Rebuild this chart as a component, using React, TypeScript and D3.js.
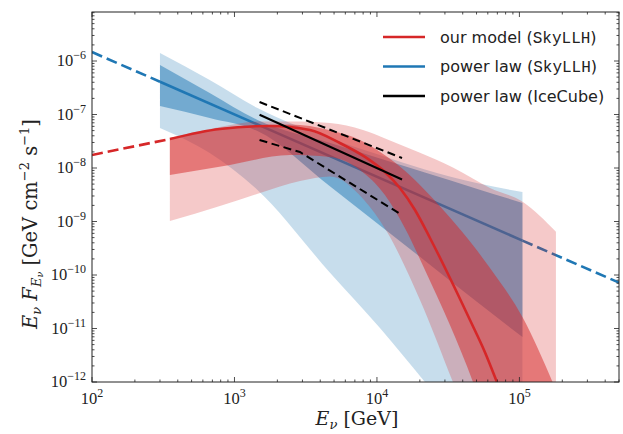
import * as d3 from "d3";

// energies in GeV, fluxes E*F in GeV cm^-2 s^-1

// power law fit (SkyLLH)
const blueLineE = [1e2, 3e2, 1.05e5, 5e5];
const blueLineF = [1.47e-6, 4.1e-7, 4.4e-10, 7.2e-11];

const blueBandE = [300, 670, 1450, 4700, 10500, 21700, 50000, 105000];
const blue2Up = [1.41e-6, 4.4e-7, 1.32e-7, 3.6e-8, 1.75e-8, 9.4e-9, 5.25e-9, 3.55e-9];
const blue2Lo = [5.6e-8, 1.9e-8, 3.9e-9, 1.09e-10, 1.02e-11, 1.0e-12, 6.6e-14, 4.0e-15];
const blue1Up = [8.4e-7, 2.52e-7, 7.9e-8, 2.93e-8, 1.51e-8, 8.2e-9, 4.1e-9, 2.22e-9];
const blue1Lo = [1.44e-7, 8.6e-8, 4.9e-8, 4.5e-9, 8.4e-10, 1.85e-10, 3.2e-11, 6.9e-12];

// our model (SkyLLH)
const modelE = [100, 352, 790, 1774, 3388, 5495, 8240, 11380, 14490, 18490, 23560, 32540, 44980, 57280, 69500, 80400];
const modelF = [1.75e-8, 3.48e-8, 5.36e-8, 6.1e-8, 5.13e-8, 2.93e-8, 1.61e-8, 8.4e-9, 4.23e-9, 1.64e-9, 4.92e-10, 8.8e-11, 1.44e-11, 3.6e-12, 1.0e-12, 3.7e-13];
const modelSolidFrom = 352;

const red2E = [352, 790, 1510, 2884, 4677, 7980, 11750, 20050, 34140, 62120, 105900, 180400];
const red2Up = [3.64e-8, 5.83e-8, 7.43e-8, 7.4e-8, 6.93e-8, 5.13e-8, 3.45e-8, 1.92e-8, 1.02e-8, 4.23e-9, 2.31e-9, 6.4e-10];
const red2Lo = [1.02e-9, 1.95e-9, 3.41e-9, 5.71e-9, 6.93e-9, 2.67e-9, 6.4e-10, 3.41e-11, 1.0e-12, 1.83e-14, 4.5e-16, 1e-17];

const red1E = [352, 929, 2449, 4677, 7603, 11380, 15700, 21730, 32540, 47210, 62120, 105900, 180400];
const red1Up = [3.48e-8, 5.83e-8, 6.47e-8, 5.07e-8, 3.33e-8, 1.73e-8, 8.9e-9, 3.85e-9, 1.19e-9, 3.59e-10, 1.35e-10, 1.57e-11, 7.1e-13];
const red1Lo = [7.4e-9, 1.14e-8, 1.75e-8, 1.61e-8, 9.2e-9, 3.13e-9, 7.6e-10, 1.24e-10, 1.16e-11, 1.0e-12, 1.21e-13, 1.44e-15, 1.5e-17];

// power law (IceCube)
const iceE = [1500, 15000];
const iceF = [9.9e-8, 6.1e-9];
const iceUpE = [1500, 15000];
const iceUpF = [1.71e-7, 1.54e-8];
const iceLoE = [1500, 2880, 15000];
const iceLoF = [3.33e-8, 1.99e-8, 1.32e-9];

const xMajor = [2, 3, 4, 5];
const yMajor = [-12, -11, -10, -9, -8, -7, -6];

const legendItems = [
  { color: "#d62728", label: "our model (", mono: "SkyLLH", end: ")" },
  { color: "#1f77b4", label: "power law (", mono: "SkyLLH", end: ")" },
  { color: "#000000", label: "power law (IceCube)", mono: "", end: "" },
];

const RED = "#d62728";
const BLUE = "#1f77b4";

export default function App() {
  const width = 623;
  const height = 434;
  const L = 92, R = 619, T = 12, B = 382;

  const x = d3.scaleLog().domain([1e2, 5e5]).range([L, R]);
  const y = d3.scaleLog().domain([1e-12, Math.pow(10, -5.084)]).range([B, T]);

  const pts = (E: number[], F: number[]) => E.map((e, i) => [e, F[i]] as [number, number]);

  const line = d3
    .line<[number, number]>()
    .x((d) => x(d[0]))
    .y((d) => y(d[1]));
  const smooth = d3
    .line<[number, number]>()
    .x((d) => x(d[0]))
    .y((d) => y(d[1]))
    .curve(d3.curveMonotoneX);

  const band = (E: number[], up: number[], lo: number[]) =>
    d3
      .area<number>()
      .x((_, i) => x(E[i]))
      .y0((_, i) => y(lo[i]))
      .y1((_, i) => y(up[i]))
      .curve(d3.curveMonotoneX)(E) || "";

  const modelPts = pts(modelE, modelF);
  const modelDash = modelPts.filter((d) => d[0] <= modelSolidFrom);
  const modelSolid = modelPts.filter((d) => d[0] >= modelSolidFrom);
  const bluePts = pts(blueLineE, blueLineF);

  const xTicks = x.ticks();
  const yTicks = y.ticks();
  const isMajor = (v: number) => Math.abs(Math.log10(v) - Math.round(Math.log10(v))) < 1e-6;

  const serif = "'Liberation Serif', 'DejaVu Serif', serif";
  const labelSerif = "'DejaVu Serif', serif";
  const sans = "'DejaVu Sans', sans-serif";
  const mono = "'Liberation Mono', 'DejaVu Sans Mono', monospace";

  return (
    <svg
      width={width}
      height={height}
      style={{ position: "absolute", left: 0, top: 0, background: "#fff" }}
    >
      <defs>
        <clipPath id="plot">
          <rect x={L} y={T} width={R - L} height={B - T} />
        </clipPath>
      </defs>
      <rect x={0} y={0} width={width} height={height} fill="#fff" />

      <g clipPath="url(#plot)">
        <path d={band(blueBandE, blue2Up, blue2Lo)} fill={BLUE} fillOpacity={0.25} />
        <path d={band(blueBandE, blue1Up, blue1Lo)} fill={BLUE} fillOpacity={0.5} />
        <path d={line(bluePts.slice(0, 2)) || ""} stroke={BLUE} strokeWidth={2.6} fill="none" strokeDasharray="11,5" />
        <path d={line(bluePts.slice(1, 3)) || ""} stroke={BLUE} strokeWidth={2.6} fill="none" />
        <path d={line(bluePts.slice(2, 4)) || ""} stroke={BLUE} strokeWidth={2.6} fill="none" strokeDasharray="11,5" />

        <path d={band(red2E, red2Up, red2Lo)} fill={RED} fillOpacity={0.25} />
        <path d={band(red1E, red1Up, red1Lo)} fill={RED} fillOpacity={0.5} />
        <path d={line(modelDash) || ""} stroke={RED} strokeWidth={2.6} fill="none" strokeDasharray="11,5" />
        <path d={smooth(modelSolid) || ""} stroke={RED} strokeWidth={2.6} fill="none" />

        <path d={line(pts(iceE, iceF)) || ""} stroke="#000" strokeWidth={2} fill="none" />
        <path d={line(pts(iceUpE, iceUpF)) || ""} stroke="#000" strokeWidth={2} fill="none" strokeDasharray="8,4.5" />
        <path d={line(pts(iceLoE, iceLoF)) || ""} stroke="#000" strokeWidth={2} fill="none" strokeDasharray="8,4.5" />
      </g>

      {/* frame */}
      <rect x={L} y={T} width={R - L} height={B - T} fill="none" stroke="#222" strokeWidth={1} />

      {/* ticks, all four sides, pointing in */}
      {xTicks.map((t, i) => {
        const len = isMajor(t) ? 5 : 2.5;
        const px = x(t);
        return (
          <g key={"xt" + i} stroke="#222" strokeWidth={0.8}>
            <line x1={px} x2={px} y1={B} y2={B - len} />
            <line x1={px} x2={px} y1={T} y2={T + len} />
          </g>
        );
      })}
      {yTicks.map((t, i) => {
        const len = isMajor(t) ? 5 : 2.5;
        const py = y(t);
        return (
          <g key={"yt" + i} stroke="#222" strokeWidth={0.8}>
            <line x1={L} x2={L + len} y1={py} y2={py} />
            <line x1={R} x2={R - len} y1={py} y2={py} />
          </g>
        );
      })}

      {xMajor.map((k) => (
        <text key={"xl" + k} x={x(Math.pow(10, k))} y={404} textAnchor="middle" fontFamily={serif} fontSize={16.5} fill="#222">
          10<tspan dy={-7} fontSize={12}>{k}</tspan>
        </text>
      ))}
      {yMajor.map((k) => (
        <text key={"yl" + k} x={86} y={y(Math.pow(10, k)) + 5} textAnchor="end" fontFamily={serif} fontSize={16.5} fill="#222">
          10<tspan dy={-7} fontSize={12}>{"\u2212" + Math.abs(k)}</tspan>
        </text>
      ))}

      {/* axis labels */}
      <text x={357} y={425} textAnchor="middle" fontFamily={labelSerif} fontSize={19} fill="#222">
        <tspan fontStyle="italic">E</tspan>
        <tspan fontStyle="italic" fontSize={13} dy={4}>ν</tspan>
        <tspan dy={-4}> [GeV]</tspan>
      </text>
      <text
        transform="translate(37,224) rotate(-90)"
        textAnchor="middle"
        fontFamily={labelSerif}
        fontSize={19.5}
        fill="#222"
      >
        <tspan fontStyle="italic">E</tspan>
        <tspan fontStyle="italic" fontSize={13} dy={4}>ν</tspan>
        <tspan fontStyle="italic" dy={-4}> F</tspan>
        <tspan fontStyle="italic" fontSize={13} dy={4}>E</tspan>
        <tspan fontStyle="italic" fontSize={9.5} dy={2}>ν</tspan>
        <tspan dy={-6}> [GeV cm</tspan>
        <tspan fontSize={13} dy={-8}>−2</tspan>
        <tspan dy={8}> s</tspan>
        <tspan fontSize={13} dy={-8}>−1</tspan>
        <tspan dy={8}>]</tspan>
      </text>

      {/* legend */}
      {legendItems.map((it, i) => {
        const ly = 37 + i * 29.5;
        return (
          <g key={"lg" + i}>
            <line x1={383} x2={425} y1={ly} y2={ly} stroke={it.color} strokeWidth={2.6} />
            <text x={440} y={ly + 5.5} fontFamily={sans} fontSize={16} fill="#222">
              {it.label}
              {it.mono ? <tspan fontFamily={mono}>{it.mono}</tspan> : null}
              {it.end}
            </text>
          </g>
        );
      })}
    </svg>
  );
}
